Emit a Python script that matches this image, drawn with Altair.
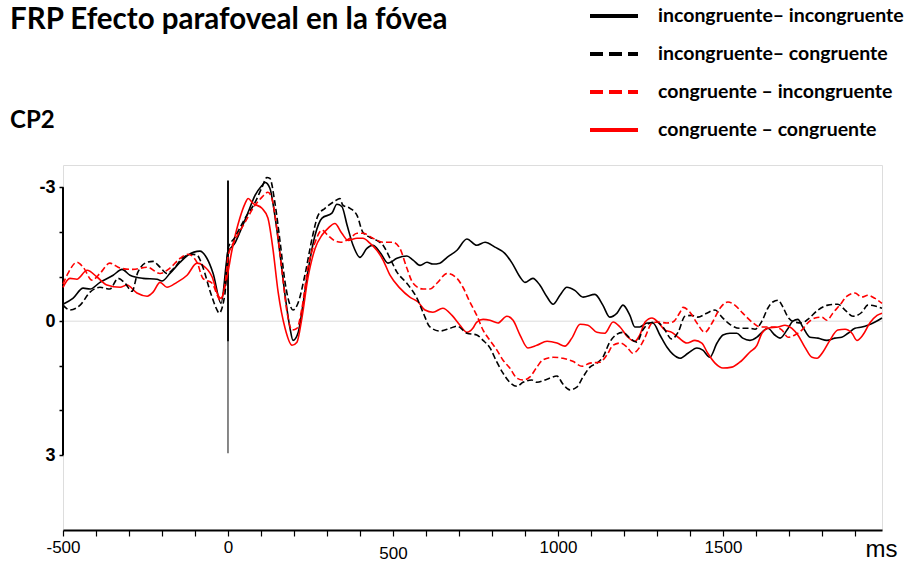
import altair as alt
import pandas as pd

# Condition names (legend order) and their styles
SERIES = [
    "incongruente– incongruente",
    "incongruente– congruente",
    "congruente – incongruente",
    "congruente – congruente",
]
COLORS = ["#000000", "#000000", "#ff0000", "#ff0000"]
SOLID = [SERIES[0], SERIES[3]]
DASHED = [SERIES[1], SERIES[2]]
LINE_DASH = [6, 3]
KEY_DASHES = [[1, 0], [13, 6], [13, 6], [1, 0]]

# FRP waveforms at CP2: (time in ms, amplitude in µV)
inc_inc = [
    (-500, -0.38), (-470, -0.51), (-439, -0.74), (-418, -0.72), (-388, -0.87),
    (-348, -1.03), (-321, -1.16), (-297, -1.03), (-258, -0.96), (-215, -0.94),
    (-200, -0.90), (-176, -1.07), (-145, -1.32), (-121, -1.48), (-85, -1.57),
    (-64, -1.41), (-45, -1.07), (-21, -0.40), (0, -1.54), (21, -1.75),
    (42, -2.10), (61, -2.44), (82, -2.82), (103, -3.04), (112, -3.11),
    (127, -2.98), (142, -2.37), (158, -1.48), (173, -0.58), (188, 0.16),
    (197, 0.43), (212, 0.27), (227, -0.36), (242, -1.10), (264, -1.93),
    (285, -2.31), (315, -2.42), (330, -2.62), (345, -2.57), (361, -2.15),
    (379, -1.70), (400, -1.43), (421, -1.63), (439, -1.70), (461, -1.54),
    (485, -1.30), (512, -1.41), (542, -1.46), (561, -1.37), (582, -1.25),
    (603, -1.32), (621, -1.28), (642, -1.30), (664, -1.43), (694, -1.59),
    (724, -1.84), (754, -1.70), (779, -1.77), (809, -1.66), (839, -1.52),
    (861, -1.30), (885, -0.99), (900, -0.87), (924, -0.96), (945, -0.81),
    (967, -0.54), (985, -0.38), (1006, -0.58), (1027, -0.76), (1051, -0.69),
    (1076, -0.54), (1112, -0.60), (1136, -0.36), (1157, -0.09), (1179, -0.18),
    (1197, -0.36), (1218, -0.13), (1233, 0.13), (1248, 0.13), (1270, 0.04),
    (1288, 0.04), (1309, 0.31), (1330, 0.58), (1348, 0.74), (1370, 0.83),
    (1394, 0.72), (1421, 0.60), (1439, 0.65), (1460, 0.81), (1482, 0.49),
    (1500, 0.31), (1521, 0.27), (1542, 0.27), (1560, 0.38), (1582, 0.43),
    (1603, 0.36), (1618, 0.25), (1636, 0.16), (1657, 0.31), (1673, 0.38),
    (1694, 0.20), (1712, 0.00), (1727, -0.04), (1742, 0.13), (1764, 0.36),
    (1788, 0.38), (1815, 0.43), (1839, 0.38), (1860, 0.36), (1879, 0.27),
    (1900, 0.16), (1921, 0.13), (1939, 0.09), (1961, 0.02), (1982, -0.07),
]

inc_con = [
    (-500, -0.36), (-479, -0.25), (-448, -0.36), (-418, -0.65), (-388, -0.76),
    (-358, -0.72), (-333, -0.96), (-312, -0.85), (-291, -0.67), (-273, -1.10),
    (-245, -1.32), (-227, -1.34), (-206, -1.21), (-185, -1.07), (-161, -1.21),
    (-136, -1.43), (-109, -1.50), (-94, -1.48), (-76, -1.21), (-55, -0.69),
    (-33, -0.25), (-27, -0.18), (-9, -0.63), (0, -1.63), (21, -1.88),
    (52, -2.31), (82, -2.66), (103, -3.00), (118, -3.22), (127, -3.20),
    (142, -2.66), (158, -1.77), (173, -0.87), (188, -0.36), (197, -0.25),
    (212, -0.40), (233, -1.03), (255, -1.86), (273, -2.37), (294, -2.53),
    (324, -2.69), (339, -2.75), (348, -2.60), (370, -2.53), (391, -2.37),
    (409, -1.99), (430, -1.88), (451, -1.81), (470, -1.70), (491, -1.41),
    (512, -1.10), (542, -0.85), (573, -0.51), (591, -0.20), (612, 0.13),
    (642, 0.22), (673, 0.16), (694, 0.11), (724, 0.27), (754, 0.31),
    (773, 0.43), (794, 0.60), (815, 0.92), (833, 1.16), (854, 1.37),
    (876, 1.46), (894, 1.37), (921, 1.32), (936, 1.37), (967, 1.30),
    (997, 1.23), (1015, 1.41), (1036, 1.54), (1057, 1.48), (1076, 1.25),
    (1097, 1.03), (1118, 0.94), (1136, 0.81), (1157, 0.47), (1179, 0.29),
    (1197, 0.25), (1218, 0.38), (1239, 0.47), (1257, 0.20), (1279, 0.04),
    (1300, 0.02), (1318, 0.13), (1345, 0.40), (1364, 0.25), (1385, -0.11),
    (1406, -0.13), (1424, -0.09), (1451, -0.18), (1476, -0.25), (1497, -0.09),
    (1521, 0.07), (1551, 0.16), (1582, 0.16), (1597, 0.18), (1618, 0.00),
    (1636, -0.29), (1651, -0.43), (1667, -0.47), (1682, -0.31), (1697, -0.09),
    (1718, 0.02), (1739, 0.04), (1757, -0.04), (1788, -0.25), (1818, -0.36),
    (1848, -0.38), (1870, -0.25), (1894, -0.11), (1921, -0.20), (1939, -0.36),
    (1961, -0.34), (1982, -0.29),
]

con_inc = [
    (-500, -0.83), (-485, -1.07), (-458, -1.32), (-439, -1.21), (-412, -0.92),
    (-388, -1.07), (-358, -1.30), (-327, -1.19), (-288, -1.16), (-245, -1.21),
    (-206, -1.07), (-176, -1.19), (-145, -1.41), (-121, -1.50), (-94, -1.32),
    (-76, -0.96), (-48, -0.85), (-30, -0.54), (-24, -0.47), (-3, -1.20),
    (0, -1.45), (21, -1.81), (52, -2.22), (82, -2.60), (103, -2.78),
    (121, -2.89), (133, -2.75), (148, -2.08), (164, -1.10), (179, -0.20),
    (194, 0.20), (209, 0.16), (224, -0.29), (242, -1.19), (264, -1.77),
    (285, -2.04), (303, -1.92), (324, -1.80), (342, -1.77), (370, -1.86),
    (391, -1.97), (409, -1.97), (439, -1.86), (470, -1.77), (500, -1.77),
    (521, -1.63), (542, -1.19), (561, -0.85), (591, -0.72), (612, -0.72),
    (633, -0.85), (664, -1.07), (694, -0.96), (712, -0.76), (733, -0.43),
    (754, -0.13), (773, 0.20), (794, 0.43), (815, 0.65), (833, 0.87),
    (854, 1.05), (876, 1.28), (894, 1.32), (915, 1.25), (936, 1.03),
    (954, 0.87), (985, 0.81), (1015, 0.83), (1045, 0.90), (1073, 1.01),
    (1097, 0.94), (1127, 0.92), (1148, 0.76), (1167, 0.54), (1188, 0.49),
    (1209, 0.58), (1227, 0.72), (1248, 0.58), (1264, 0.36), (1285, 0.04),
    (1303, 0.02), (1330, 0.04), (1348, 0.02), (1370, -0.20), (1379, -0.31),
    (1400, -0.20), (1421, 0.04), (1445, 0.25), (1467, 0.04), (1491, -0.29),
    (1515, -0.43), (1536, -0.36), (1560, -0.18), (1588, 0.02), (1612, 0.13),
    (1636, 0.13), (1657, 0.13), (1679, 0.20), (1697, 0.36), (1718, 0.31),
    (1739, 0.20), (1757, 0.04), (1779, -0.07), (1800, -0.09), (1815, -0.02),
    (1833, -0.18), (1854, -0.36), (1876, -0.56), (1900, -0.63), (1921, -0.54),
    (1939, -0.58), (1961, -0.51), (1982, -0.40),
]

con_con = [
    (-500, -0.76), (-479, -0.96), (-458, -0.94), (-427, -1.14), (-397, -0.99),
    (-367, -0.81), (-327, -0.76), (-306, -0.81), (-276, -0.63), (-245, -0.56),
    (-227, -0.65), (-206, -0.87), (-185, -0.76), (-155, -0.87), (-124, -1.03),
    (-94, -1.30), (-76, -1.25), (-48, -0.99), (-30, -0.58), (-21, -0.51),
    (-3, -0.99), (12, -1.59), (36, -2.31), (52, -2.64), (61, -2.75),
    (76, -2.64), (103, -2.53), (121, -2.31), (136, -1.63), (152, -0.65),
    (173, 0.16), (194, 0.54), (209, 0.47), (224, -0.07), (242, -0.96),
    (264, -1.63), (285, -1.93), (303, -2.08), (324, -2.19), (345, -1.97),
    (364, -1.81), (391, -1.86), (409, -1.86), (430, -1.75), (451, -1.59),
    (470, -1.37), (491, -1.03), (521, -0.74), (551, -0.54), (576, -0.43),
    (597, -0.25), (621, -0.20), (651, -0.29), (679, -0.13), (703, 0.09),
    (724, 0.25), (742, 0.16), (754, 0.02), (773, -0.04), (794, -0.02),
    (818, 0.04), (845, -0.11), (864, -0.02), (885, 0.31), (909, 0.60),
    (936, 0.54), (967, 0.45), (997, 0.49), (1021, 0.56), (1042, 0.38),
    (1067, 0.07), (1091, 0.09), (1118, 0.25), (1142, 0.27), (1167, 0.02),
    (1188, 0.13), (1212, 0.36), (1233, 0.45), (1248, 0.31), (1264, 0.02),
    (1285, -0.07), (1303, 0.02), (1324, 0.20), (1345, 0.25), (1364, 0.36),
    (1391, 0.49), (1415, 0.43), (1436, 0.49), (1454, 0.72), (1476, 0.94),
    (1500, 1.05), (1527, 1.03), (1551, 0.92), (1582, 0.69), (1603, 0.54),
    (1618, 0.27), (1636, 0.16), (1667, 0.13), (1688, 0.09), (1709, 0.16),
    (1727, 0.31), (1748, 0.58), (1770, 0.81), (1785, 0.83), (1803, 0.69),
    (1824, 0.43), (1848, 0.20), (1870, 0.18), (1891, 0.27), (1906, 0.43),
    (1924, 0.31), (1945, 0.04), (1967, -0.13), (1982, -0.18),
]

# Axis ranges, ticks and reference lines
X_DOMAIN = [-500, 1982]
Y_DOMAIN = [-3.5, 4.68]
X_TICKS = list(range(-500, 2000, 100))
Y_TICKS = [-3, -2, -1, 0, 1, 2, 3]
Y_AXIS_SPAN = [-3, 3]
ONSET_TOP = -3.15
ONSET_ENDS = [0.45, 2.96]
ONSET_WIDTHS = [2, 1]

rows = []
for name, pts in zip(SERIES, [inc_inc, inc_con, con_inc, con_con]):
    for t, v in pts:
        rows.append({"serie": name, "ms": t, "uv": v})
waves = pd.DataFrame(rows)
# one anchor per condition: feeds the key only, a single vertex draws no line
key_rows = pd.DataFrame({"serie": SERIES, "ms": [0] * 4, "uv": [0] * 4})

x_scale = alt.Scale(domain=X_DOMAIN, nice=False, zero=False)
y_scale = alt.Scale(domain=Y_DOMAIN, reverse=True, nice=False, zero=False)
color_scale = alt.Scale(domain=SERIES, range=COLORS)

x_axis = alt.Axis(
    values=X_TICKS,
    labelExpr="datum.value == -500 ? '-500' : (datum.value % 500 == 0 ? '' + datum.value : '')",
    labelOverlap=False, labelFlush=False,
    domainColor="#000000", domainWidth=2,
    tickColor="#000000", tickSize=6, tickWidth=1.2,
    labelFont="Liberation Sans", labelFontSize=17, labelColor="#000000",
    labelPadding={"condition": {"test": "datum.value == 500", "value": 9}, "value": 3},
    grid=False,
    title="ms", titleFont="Liberation Sans", titleFontSize=24, titleFontWeight="normal",
    titleColor="#000000", titleAlign="right", titleBaseline="middle",
    titleX=834, titleY=19,
)
y_axis = alt.Axis(
    values=Y_TICKS,
    labelExpr="datum.value == -3 ? '-3' : (datum.value == 0 ? '0' : (datum.value == 3 ? '3' : ''))",
    labelOverlap=False, labelFlush=False,
    domain=False, tickColor="#000000", tickSize=4, tickWidth=1.5,
    labelFont="Liberation Sans", labelFontSize=18, labelFontWeight="bold",
    labelColor="#000000", labelPadding=4, grid=False, title=None,
)

legend = alt.Legend(
    title=None, orient="none", legendX=525, legendY=-163,
    labelFont="Lato", labelFontSize=19.5, labelFontWeight="bold", labelColor="#000000",
    labelLimit=400, labelOffset=42,
    symbolType="M-1,0H3", symbolSize=576, symbolStrokeWidth=4,
    rowPadding=14, padding=0,
)

X = alt.X("ms:Q", scale=x_scale, axis=x_axis)
Y = alt.Y("uv:Q", scale=y_scale, axis=y_axis)

zero_line = alt.Chart(pd.DataFrame({"ms": [X_DOMAIN[0]], "uv": [0]})).mark_rule(
    color="#dcdcdc", strokeWidth=1
).encode(y=Y)

y_line = alt.Chart(
    pd.DataFrame({"ms": [X_DOMAIN[0]], "uv": [Y_AXIS_SPAN[0]], "uv_end": [Y_AXIS_SPAN[1]]})
).mark_rule(color="#000000", strokeWidth=2).encode(x=X, y=Y, y2="uv_end:Q")

onset = alt.Chart(
    pd.DataFrame({"ms": [0, 0], "uv": [ONSET_TOP, ONSET_TOP], "uv_end": ONSET_ENDS, "w": ONSET_WIDTHS})
).mark_rule(color="#111111").encode(
    x=X, y=Y, y2="uv_end:Q",
    strokeWidth=alt.StrokeWidth("w:Q", scale=None, legend=None),
)


def wave_layer(names, dash):
    mark = dict(strokeWidth=1.6, interpolate="monotone")
    if dash:
        mark["strokeDash"] = dash
    return alt.Chart(waves).transform_filter(
        alt.FieldOneOfPredicate(field="serie", oneOf=names)
    ).mark_line(**mark).encode(
        x=X, y=Y,
        color=alt.Color("serie:N", scale=color_scale, legend=legend),
    )


solid_lines = wave_layer(SOLID, None)
dashed_lines = wave_layer(DASHED, LINE_DASH)

key = alt.Chart(key_rows).mark_line().encode(
    x=X, y=Y,
    color=alt.Color("serie:N", scale=color_scale, legend=legend),
    strokeDash=alt.StrokeDash("serie:N", scale=alt.Scale(domain=SERIES, range=KEY_DASHES), legend=legend),
)

chart = alt.layer(zero_line, y_line, onset, solid_lines, dashed_lines, key).properties(
    width=819,
    height=365,
    autosize=alt.AutoSizeParams(type="none"),
    padding={"left": 63, "top": 165, "right": 30, "bottom": 35},
    title=alt.TitleParams(
        text="FRP Efecto parafoveal en la fóvea", subtitle="CP2",
        anchor="start", frame="group", dx=-53, dy=132, offset=0,
        font="Lato", fontSize=29.5, fontWeight="bold", color="#000000",
        subtitleFont="Lato", subtitleFontSize=24, subtitleFontWeight="bold",
        subtitleColor="#000000", subtitlePadding=74,
    ),
).configure_view(stroke=None).configure_axis(labelOverlap=False).configure(background="#ffffff")

chart.save("out.html", embed_options={"renderer": "svg", "actions": False})
